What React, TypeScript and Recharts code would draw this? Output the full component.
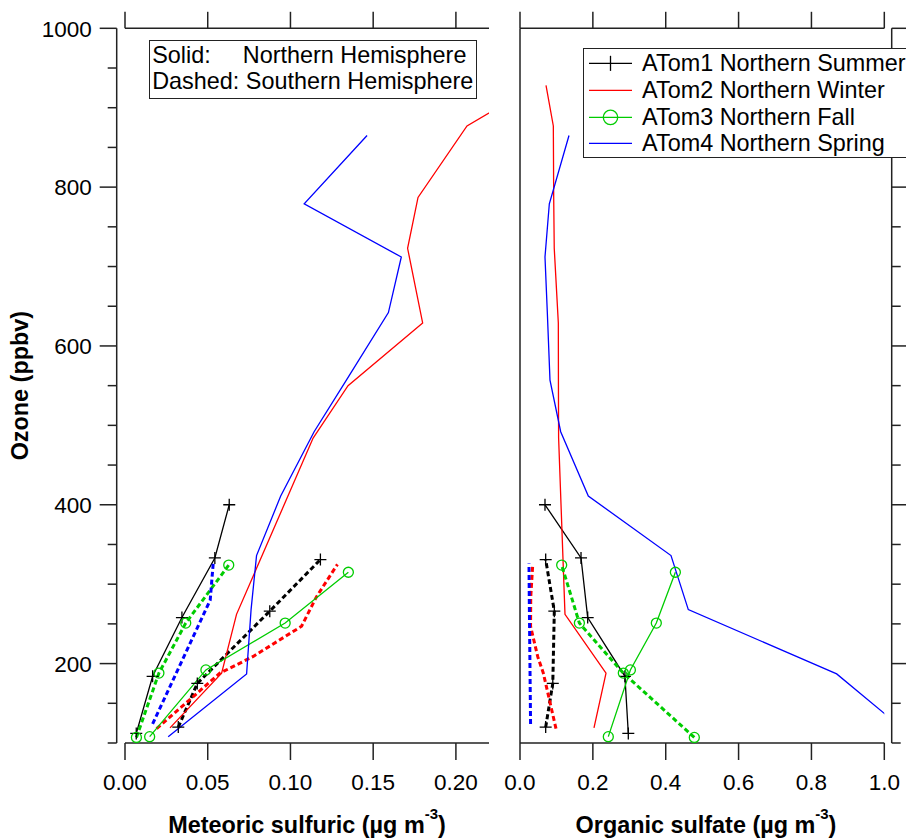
import { LineChart, Line, XAxis, YAxis, ReferenceLine, Legend } from 'recharts';

// Ozone bins (ppbv) and mean concentrations (µg m-3) per campaign / hemisphere
const atom1NorthOzone = [112, 184, 258, 333, 400];
const atom1NorthMeteoric = [0.0068, 0.0167, 0.0344, 0.0543, 0.063];
const atom1NorthOrganic = [0.2973, 0.288, 0.1858, 0.1675, 0.0686];
const atom1SouthOzone = [120, 175, 266, 331];
const atom1SouthMeteoric = [0.0322, 0.0437, 0.0875, 0.1181];
const atom1SouthOrganic = [0.0705, 0.09, 0.0942, 0.0705];

const atom2NorthOzone = [119, 188, 262, 484, 550, 629, 723, 787, 877, 928];
const atom2NorthMeteoric = [0.0272, 0.0584, 0.0674, 0.1137, 0.1348, 0.1799, 0.1708, 0.1771, 0.2067, 0.248];
const atom2NorthOrganic = [0.2031, 0.2361, 0.1235, 0.106, 0.1055, 0.1052, 0.094, 0.0925, 0.0915, 0.0714];
const atom2SouthOzone = [118, 188, 209, 247, 284, 325];
const atom2SouthMeteoric = [0.0191, 0.0574, 0.0775, 0.1067, 0.1157, 0.1284];
const atom2SouthOrganic = [0.0988, 0.064, 0.0485, 0.029, 0.0295, 0.035];

const atom3NorthOzone = [108, 192, 251, 315];
const atom3NorthMeteoric = [0.0149, 0.0489, 0.0968, 0.135];
const atom3NorthOrganic = [0.2424, 0.303, 0.3742, 0.4265];
const atom3SouthOzone = [107, 188, 251, 324];
const atom3SouthMeteoric = [0.0069, 0.0205, 0.0367, 0.0627];
const atom3SouthOrganic = [0.4785, 0.2836, 0.163, 0.1144];

const atom4NorthOzone = [108, 187, 268, 336, 411, 492, 557, 642, 712, 779, 865];
const atom4NorthMeteoric = [0.0261, 0.0735, 0.0762, 0.0795, 0.0941, 0.1143, 0.1338, 0.1592, 0.167, 0.1083, 0.1463];
const atom4NorthOrganic = [1.077, 0.8693, 0.462, 0.4145, 0.1875, 0.1117, 0.0823, 0.075, 0.0686, 0.0805, 0.1345];
const atom4SouthOzone = [124, 280, 326];
const atom4SouthMeteoric = [0.0167, 0.0515, 0.0533];
const atom4SouthOrganic = [0.029, 0.0255, 0.0247];

const ozoneTicks = [100, 150, 200, 250, 300, 350, 400, 450, 500, 550, 600, 650, 700, 750, 800, 850, 900, 950, 1000];
const meteoricTicks = [0, 0.05, 0.1, 0.15, 0.2];
const organicTicks = [0, 0.2, 0.4, 0.6, 0.8, 1.0];

const campaigns = [
    {
        name: 'ATom1 Northern Summer', color: '#000000', marker: 'cross',
        northOzone: atom1NorthOzone, northMeteoric: atom1NorthMeteoric, northOrganic: atom1NorthOrganic,
        southOzone: atom1SouthOzone, southMeteoric: atom1SouthMeteoric, southOrganic: atom1SouthOrganic,
    },
    {
        name: 'ATom2 Northern Winter', color: '#ff0000', marker: null,
        northOzone: atom2NorthOzone, northMeteoric: atom2NorthMeteoric, northOrganic: atom2NorthOrganic,
        southOzone: atom2SouthOzone, southMeteoric: atom2SouthMeteoric, southOrganic: atom2SouthOrganic,
    },
    {
        name: 'ATom3 Northern Fall', color: '#00cc00', marker: 'circle',
        northOzone: atom3NorthOzone, northMeteoric: atom3NorthMeteoric, northOrganic: atom3NorthOrganic,
        southOzone: atom3SouthOzone, southMeteoric: atom3SouthMeteoric, southOrganic: atom3SouthOrganic,
    },
    {
        name: 'ATom4 Northern Spring', color: '#0000ff', marker: null,
        northOzone: atom4NorthOzone, northMeteoric: atom4NorthMeteoric, northOrganic: atom4NorthOrganic,
        southOzone: atom4SouthOzone, southMeteoric: atom4SouthMeteoric, southOrganic: atom4SouthOrganic,
    },
];

const FONT = '"Liberation Sans", Arial, Helvetica, sans-serif';
const AXIS = '#222';
const TEXT_SIZE = 23.4;

// plot box (page pixels)
const PLOT_TOP = 28.3;
const PLOT_BOTTOM = 743;
const CHART_H = 839;
const LEFT_STANDOFF = 8.3;  // y axes sit a few px off the data area, like Igor's standoff
const RIGHT_STANDOFF = 7.4;

const profile = (values: number[], ozone: number[]) => values.map((v, i) => ({ x: v, y: ozone[i] }));

function makeDot(marker: string | null, color: string) {
    if (!marker) return false;
    return (p: any) => {
        const { cx, cy, index } = p;
        if (cx == null || cy == null) return <g key={index} />;
        if (marker === 'cross') {
            return <path key={index} d={`M${cx - 6},${cy}H${cx + 6}M${cx},${cy - 6}V${cy + 6}`} stroke={color} strokeWidth={1.3} fill="none" />;
        }
        return <circle key={index} cx={cx} cy={cy} r={5} stroke={color} strokeWidth={1.3} fill="none" />;
    };
}

function profileLines(kind: 'meteoric' | 'organic') {
    return campaigns.flatMap((c) => [
        <Line
            key={c.name + '-N'}
            name={c.name}
            data={profile(kind === 'meteoric' ? c.northMeteoric : c.northOrganic, c.northOzone)}
            dataKey="y"
            type="linear"
            stroke={c.color}
            strokeWidth={1.3}
            dot={makeDot(c.marker, c.color)}
            activeDot={false}
            isAnimationActive={false}
        />,
        <Line
            key={c.name + '-S'}
            name={c.name + ' (SH)'}
            legendType="none"
            data={profile(kind === 'meteoric' ? c.southMeteoric : c.southOrganic, c.southOzone)}
            dataKey="y"
            type="linear"
            stroke={c.color}
            strokeWidth={3}
            strokeDasharray="5 3"
            dot={makeDot(c.marker, c.color)}
            activeDot={false}
            isAnimationActive={false}
        />,
    ]);
}

function OzoneTick(props: any) {
    const { x = 0, y = 0, payload, side, standoff } = props;
    const value = payload ? payload.value : 0;
    const major = value % 200 === 0;
    const dir = side === 'left' ? -1 : 1;
    const x0 = x + dir * standoff;
    const len = major ? 17 : 9;
    return (
        <g>
            <line x1={x0} y1={y} x2={x0 + dir * len} y2={y} stroke={AXIS} strokeWidth={1.5} />
            {major && side === 'left' ? (
                <text x={x0 - len - 8} y={y} dy="0.37em" textAnchor="end" fontSize={22.5} fill="#000" fontFamily={FONT}>
                    {value}
                </text>
            ) : null}
        </g>
    );
}

const noLabel = () => <g />;

const OzoneTitle = () => (
    <text x={28} y={(PLOT_TOP + PLOT_BOTTOM) / 2} transform={`rotate(-90 28 ${(PLOT_TOP + PLOT_BOTTOM) / 2})`}
        textAnchor="middle" fontSize={TEXT_SIZE} fontWeight="bold" fill="#000" fontFamily={FONT}>
        Ozone (ppbv)
    </text>
);

const unitTitle = (x: number, text: string) => () => (
    <text x={x} y={832.7} textAnchor="middle" fontSize={TEXT_SIZE} fontWeight="bold" fill="#000" fontFamily={FONT}>
        <tspan>{text} (µg m</tspan>
        <tspan fontSize={15} dy={-14}>-3</tspan>
        <tspan dy={14}>)</tspan>
    </text>
);

function SeasonLegend({ payload }: any) {
    const items = (payload || []).filter((it: any) => campaigns.some((c) => c.name === it.value));
    return (
        <div style={{ border: `1.5px solid ${AXIS}`, background: '#fff', padding: '1.5px 0 0.4px 0', width: 340, boxSizing: 'border-box', fontFamily: FONT }}>
            {items.map((it: any) => {
                const c = campaigns.find((k) => k.name === it.value)!;
                return (
                    <div key={it.value} style={{ display: 'flex', alignItems: 'center', height: 26.7 }}>
                        <svg width={43} height={26.7} style={{ marginLeft: 5.8, marginRight: 9.6, flex: 'none', display: 'block' }}>
                            <line x1={0} y1={13.35} x2={43} y2={13.35} stroke={c.color} strokeWidth={1.3} />
                            {c.marker === 'cross' && <path d="M21.5,5.8V20.9" stroke={c.color} strokeWidth={1.3} />}
                            {c.marker === 'circle' && <circle cx={21.5} cy={13.35} r={7.2} stroke={c.color} strokeWidth={1.3} fill="none" />}
                        </svg>
                        <span style={{ fontSize: TEXT_SIZE, lineHeight: '26.7px', whiteSpace: 'nowrap', color: '#000' }}>{it.value}</span>
                    </div>
                );
            })}
        </div>
    );
}

export default function App() {
    const axisLine = { stroke: AXIS, strokeWidth: 1.5 };
    const tickFont = { fontSize: 22.5, fill: '#000', fontFamily: FONT };

    // left panel: data box 125..489 px, right panel: 520..884.3 px
    const leftW = 500;
    const rightX = 480;
    const rightW = 426;

    return (
        <div style={{ position: 'absolute', left: 0, top: 0, width: 906, height: 839, overflow: 'hidden', background: '#fff', fontFamily: FONT }}>
            <div style={{ position: 'absolute', left: 0, top: 0 }}>
                <LineChart width={leftW} height={CHART_H} margin={{ top: PLOT_TOP - 20, right: leftW - 489, bottom: CHART_H - PLOT_BOTTOM - 60, left: 125 - 60 }}>
                    <XAxis type="number" dataKey="x" domain={[0, 0.22]} allowDataOverflow ticks={meteoricTicks} interval={0}
                        tickFormatter={(v: number) => v.toFixed(2)} height={60} tickSize={17} tickMargin={14}
                        axisLine={axisLine} tickLine={axisLine} tick={tickFont} label={unitTitle(307, 'Meteoric sulfuric')} />
                    <XAxis xAxisId="top" orientation="top" type="number" dataKey="x" domain={[0, 0.22]} allowDataOverflow
                        ticks={meteoricTicks} interval={0} height={20} tickSize={16.5} axisLine={axisLine} tickLine={axisLine} tick={noLabel} />
                    <YAxis type="number" domain={[100, 1000]} allowDataOverflow ticks={ozoneTicks} interval={0} width={60}
                        tickSize={0} tickMargin={0} axisLine={false} tickLine={false}
                        tick={(p: any) => <OzoneTick {...p} side="left" standoff={LEFT_STANDOFF} />} label={OzoneTitle} />
                    <ReferenceLine x={-LEFT_STANDOFF * 0.22 / 364} ifOverflow="visible" stroke={AXIS} strokeWidth={1.5} />
                    {profileLines('meteoric')}
                </LineChart>
            </div>

            <div style={{ position: 'absolute', left: rightX, top: 0 }}>
                <LineChart width={rightW} height={CHART_H} margin={{ top: PLOT_TOP - 20, right: rightW - (884.3 - rightX) - 20, bottom: CHART_H - PLOT_BOTTOM - 60, left: 520 - rightX }}>
                    <XAxis type="number" dataKey="x" domain={[0, 1]} allowDataOverflow ticks={organicTicks} interval={0}
                        tickFormatter={(v: number) => v.toFixed(1)} height={60} tickSize={17} tickMargin={14}
                        axisLine={axisLine} tickLine={axisLine} tick={tickFont} label={unitTitle(706 - rightX, 'Organic sulfate')} />
                    <XAxis xAxisId="top" orientation="top" type="number" dataKey="x" domain={[0, 1]} allowDataOverflow
                        ticks={organicTicks} interval={0} height={20} tickSize={16.5} axisLine={axisLine} tickLine={axisLine} tick={noLabel} />
                    <YAxis orientation="right" type="number" domain={[100, 1000]} allowDataOverflow ticks={ozoneTicks} interval={0} width={20}
                        tickSize={0} tickMargin={0} axisLine={false} tickLine={false}
                        tick={(p: any) => <OzoneTick {...p} side="right" standoff={RIGHT_STANDOFF} />} />
                    <ReferenceLine x={0} ifOverflow="visible" stroke={AXIS} strokeWidth={1.5} />
                    <ReferenceLine x={1 + RIGHT_STANDOFF / 364.3} ifOverflow="visible" stroke={AXIS} strokeWidth={1.5} />
                    {profileLines('organic')}
                    <Legend content={SeasonLegend} layout="horizontal" verticalAlign="middle" align="center"
                        wrapperStyle={{ left: 582.7 - rightX, top: 47.7, width: 340 }} />
                </LineChart>
            </div>

            {/* hemisphere note box */}
            <div style={{
                position: 'absolute', left: 149, top: 40.3, width: 328.3, height: 59, boxSizing: 'border-box',
                border: `1.5px solid ${AXIS}`, background: '#fff', padding: '2px 0 0 2.2px', fontSize: TEXT_SIZE, lineHeight: '25.7px', color: '#000', whiteSpace: 'nowrap',
            }}>
                <div><span style={{ display: 'inline-block', width: 90.6 }}>Solid:</span>Northern Hemisphere</div>
                <div>Dashed: Southern Hemisphere</div>
            </div>
        </div>
    );
}
